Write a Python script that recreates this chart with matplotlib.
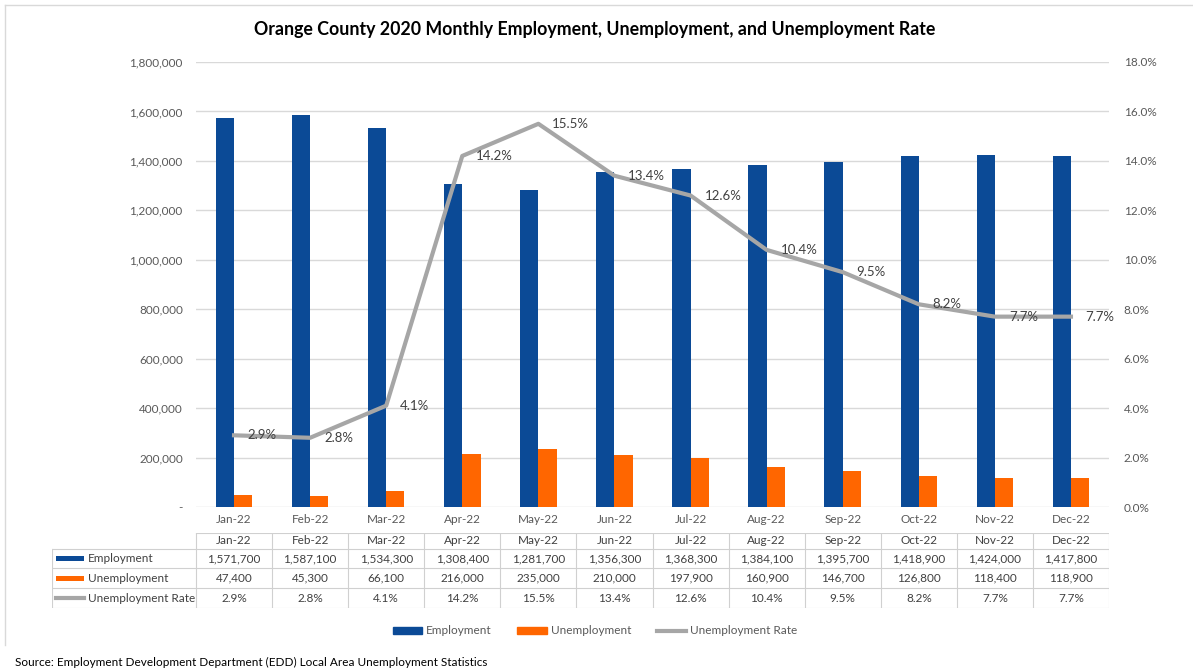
import numpy as np
import matplotlib
matplotlib.use("Agg")
import matplotlib.pyplot as plt
from matplotlib.patches import Patch, Rectangle
from matplotlib.lines import Line2D
from matplotlib.ticker import FuncFormatter

plt.rcParams['font.family'] = ['Lato', 'DejaVu Sans']

months = ["Jan-22", "Feb-22", "Mar-22", "Apr-22", "May-22", "Jun-22",
          "Jul-22", "Aug-22", "Sep-22", "Oct-22", "Nov-22", "Dec-22"]
employment = [1571700, 1587100, 1534300, 1308400, 1281700, 1356300,
              1368300, 1384100, 1395700, 1418900, 1424000, 1417800]
unemployment = [47400, 45300, 66100, 216000, 235000, 210000,
                197900, 160900, 146700, 126800, 118400, 118900]
rate = [2.9, 2.8, 4.1, 14.2, 15.5, 13.4, 12.6, 10.4, 9.5, 8.2, 7.7, 7.7]

BLUE = "#0b4a96"
ORANGE = "#ff6600"
GRAY = "#a6a6a6"
TXT = "#595959"
GRID = "#d9d9d9"

W, H = 1193, 670
fig = plt.figure(figsize=(W / 100, H / 100), dpi=100)

# main chart area
ax = fig.add_axes([196 / W, 1 - 507 / H, 913 / W, 445 / H])
x = np.arange(len(months))
bw = 0.24
ax.bar(x - bw / 2, employment, bw, color=BLUE, zorder=2)
ax.bar(x + bw / 2, unemployment, bw, color=ORANGE, zorder=2)
ax.set_xlim(-0.5, len(months) - 0.5)
ax.set_ylim(0, 1800000)
ax.set_yticks(np.arange(0, 1800001, 200000))
ax.yaxis.set_major_formatter(FuncFormatter(lambda v, p: "-" if v == 0 else f"{v:,.0f}"))
ax.set_xticks(x)
ax.set_xticklabels(months)
ax.grid(axis="y", color=GRID, lw=1, zorder=0)
ax.set_axisbelow(True)
for s in ax.spines.values():
    s.set_visible(False)
ax.tick_params(axis="y", length=0, pad=9.5, labelsize=8.5, labelcolor=TXT)
ax.tick_params(axis="x", length=0, pad=5, labelsize=8.5, labelcolor=TXT)

ax2 = ax.twinx()
ax2.plot(x, rate, color=GRAY, lw=3, solid_joinstyle="round", zorder=3)
ax2.set_ylim(0, 18)
ax2.set_yticks(np.arange(0, 18.1, 2))
ax2.yaxis.set_major_formatter(FuncFormatter(lambda v, p: f"{v:.1f}%"))
for s in ax2.spines.values():
    s.set_visible(False)
ax2.tick_params(axis="y", length=0, pad=10.5, labelsize=8.5, labelcolor=TXT)
for i, v in enumerate(rate):
    ax2.annotate(f"{v}%", (i, v), xytext=(10, 0), textcoords="offset points",
                 ha="left", va="center", fontsize=9.5, color="#404040")

# data table below the chart
tax = fig.add_axes([52 / W, 1 - 608 / H, (1109 - 52) / W, 75 / H])
xl = -0.5 - (196 - 52) / 76.08
tax.set_xlim(xl, len(months) - 0.5)
tax.set_ylim(75, 0)
tax.axis("off")
edges = [0, 16, 35, 55, 75]
lc = "#d0d0d0"
tax.plot([-0.5, len(months) - 0.5], [0, 0], color=lc, lw=0.8)
for e in edges[1:]:
    tax.plot([xl, len(months) - 0.5], [e, e], color=lc, lw=0.8)
for k in range(len(months) + 1):
    tax.plot([k - 0.5, k - 0.5], [0, 75], color=lc, lw=0.8)
tax.plot([xl, xl], [16, 75], color=lc, lw=0.8)

rows = [
    ("Employment", [f"{v:,}" for v in employment], "bar", BLUE),
    ("Unemployment", [f"{v:,}" for v in unemployment], "bar", ORANGE),
    ("Unemployment Rate", [f"{v}%" for v in rate], "line", GRAY),
]
for i, m in enumerate(months):
    tax.text(i, 8, m, ha="center", va="center", fontsize=8.5, color="#404040")
for r, (name, vals, kind, col) in enumerate(rows):
    yc = (edges[r + 1] + edges[r + 2]) / 2
    k0 = xl + 4 / 76.08
    k1 = xl + 32 / 76.08
    if kind == "bar":
        tax.add_patch(Rectangle((k0, yc - 2.5), k1 - k0, 5, color=col, lw=0))
    else:
        tax.plot([k0, k1], [yc, yc], color=col, lw=3)
    tax.text(xl + 36 / 76.08, yc, name, ha="left", va="center", fontsize=8.5, color="#404040")
    for i, v in enumerate(vals):
        tax.text(i, yc, v, ha="center", va="center", fontsize=8.5, color="#404040")

# legend
handles = [Patch(color=BLUE), Patch(color=ORANGE), Line2D([], [], color=GRAY, lw=3)]
fig.legend(handles, ["Employment", "Unemployment", "Unemployment Rate"],
           loc="center", bbox_to_anchor=(595 / W, 1 - 631 / H), ncol=3,
           frameon=False, fontsize=8.5, handlelength=2.5, handleheight=0.5,
           columnspacing=2.2, handletextpad=0.3, labelcolor=TXT)

fig.suptitle("Orange County 2020 Monthly Employment, Unemployment, and Unemployment Rate",
             x=595 / W, y=1 - 30 / H, va="center", fontsize=12.8, fontweight="bold")
fig.text(15 / W, 1 - 662 / H,
         "Source: Employment Development Department (EDD) Local Area Unemployment Statistics",
         ha="left", va="center", fontsize=8.5, color="black")

# chart frame: only top and left edges are visible in the reference
fig.add_artist(Line2D([5 / W, 1.0], [1 - 5 / H, 1 - 5 / H], transform=fig.transFigure,
                      color=GRID, lw=1))
fig.add_artist(Line2D([5 / W, 5 / W], [1 - 5 / H, 1 - 645 / H], transform=fig.transFigure,
                      color=GRID, lw=1))

fig.savefig("out.png", dpi=100)
